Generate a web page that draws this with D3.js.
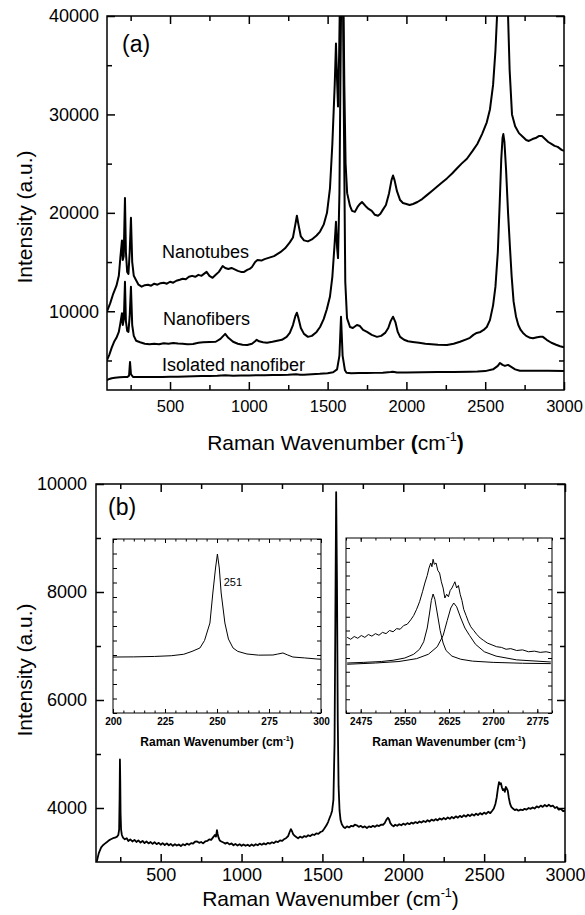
<!DOCTYPE html>
<html>
<head>
<meta charset="utf-8">
<script src="https://cdn.jsdelivr.net/npm/d3@7"></script>
<style>
  body { margin: 0; background: #fff; }
  svg { display: block; font-family: 'Liberation Sans', Arial, sans-serif; }
</style>
</head>
<body>
<svg id="chart" width="585" height="915"></svg>
<script>
// ---- data (wavenumber cm-1, intensity a.u.) ----

var nanotubesSpectrum = [
  [100,10000],[120,10800],[140,11800],[160,12600],[175,13600],[185,15500],[195,17200],[200,15200],[206,15600],
  [214,21500],[220,16000],[228,14000],[236,13800],[244,16000],[252,19500],[260,15000],[270,13600],[283,13200],
  [300,12700],[320,12500],[340,12650],[360,12700],[380,12600],[400,12800],[420,12700],[440,12850],[460,12900],
  [480,12800],[500,13000],[520,12900],[540,13100],[562,13200],[580,13300],[600,13250],[620,13500],[640,13600],
  [660,13500],[680,13700],[700,13600],[715,13800],[732,14000],[750,13600],[770,13400],[790,13700],[810,14000],
  [834,14600],[850,14400],[870,14300],[890,14400],[910,14250],[930,14100],[950,14000],[970,14000],[990,14200],
  [1005,14300],[1020,14500],[1040,15000],[1055,15200],[1080,15150],[1100,15300],[1120,15400],[1140,15500],
  [1160,15600],[1180,15800],[1200,16000],[1230,16400],[1260,17000],[1280,17500],[1295,18800],[1305,19700],
  [1315,18800],[1330,17600],[1350,17200],[1375,17100],[1400,17300],[1430,17700],[1452,18100],[1475,18800],
  [1496,20000],[1515,22500],[1530,27000],[1545,33000],[1553,37200],[1560,33500],[1566,30800],[1573,36000],
  [1580,44000],[1592,47000],[1600,42000],[1606,33000],[1614,25000],[1624,22000],[1642,20700],[1655,20200],
  [1673,20100],[1690,20600],[1705,20900],[1718,21100],[1740,20700],[1760,20400],[1780,20200],[1800,19800],
  [1820,19700],[1835,19900],[1850,20300],[1870,20800],[1890,22000],[1905,23300],[1915,23800],[1925,23300],
  [1940,22200],[1960,21300],[1978,21000],[2000,20900],[2020,20800],[2042,20900],[2070,21100],[2100,21400],
  [2130,21800],[2160,22200],[2190,22600],[2220,23000],[2257,23500],[2290,24000],[2320,24500],[2350,25000],
  [2384,25500],[2420,26300],[2450,27000],[2480,28000],[2510,29200],[2530,30500],[2550,33000],[2565,36500],
  [2578,41000],[2595,50000],[2612,55000],[2630,48000],[2645,40000],[2655,34500],[2670,30000],[2690,28800],
  [2714,28100],[2740,27700],[2760,27400],[2777,27300],[2800,27500],[2820,27600],[2840,27800],[2860,27800],
  [2880,27500],[2900,27200],[2920,27000],[2940,26800],[2960,26700],[2985,26400],[3000,26300]
];

var nanofibersSpectrum = [
  [100,5050],[115,5600],[130,6300],[145,6900],[160,7300],[175,7900],[185,8800],[195,9800],[200,8600],[207,9200],
  [214,13000],[220,9000],[228,8000],[236,7900],[244,9500],[252,12500],[260,8600],[270,7500],[285,7000],
  [310,6850],[340,6700],[370,6650],[400,6700],[430,6650],[460,6750],[490,6700],[520,6780],[550,6720],
  [580,6700],[610,6650],[646,6680],[680,6800],[710,6850],[750,6880],[790,6900],[820,7200],[850,7700],
  [870,7300],[900,6900],[930,6700],[960,6600],[990,6580],[1020,6700],[1040,6950],[1050,7100],[1065,6950],
  [1090,6850],[1115,6800],[1150,6900],[1180,7000],[1210,7100],[1240,7400],[1260,7800],[1280,8600],
  [1295,9500],[1305,9850],[1315,9300],[1330,8300],[1350,7700],[1375,7400],[1400,7500],[1430,7900],
  [1452,8400],[1475,9200],[1495,10200],[1515,11500],[1530,13500],[1545,17000],[1553,19100],[1560,16500],
  [1566,15400],[1575,22000],[1582,35000],[1588,45000],[1596,45000],[1603,30000],[1612,13000],[1623,9300],
  [1642,8400],[1660,8300],[1686,8600],[1705,8500],[1725,8100],[1750,7900],[1780,7600],[1813,7400],
  [1840,7500],[1865,7800],[1885,8300],[1900,9000],[1915,9450],[1930,8900],[1945,7900],[1960,7400],
  [1985,7100],[2010,6950],[2040,6880],[2080,6800],[2120,6700],[2160,6650],[2200,6600],[2257,6580],
  [2300,6700],[2340,6900],[2380,7150],[2403,7300],[2425,7600],[2446,7800],[2470,7900],[2490,8100],
  [2510,8400],[2530,9100],[2550,10600],[2565,12500],[2580,16000],[2592,21000],[2602,25500],[2610,27600],
  [2615,28000],[2622,27200],[2632,24500],[2645,20000],[2657,16500],[2668,13500],[2680,11000],[2695,9500],
  [2710,8600],[2725,8100],[2740,7800],[2760,7500],[2785,7300],[2803,7250],[2830,7350],[2850,7400],
  [2866,7400],[2890,7100],[2920,6800],[2950,6600],[2975,6450],[3000,6350]
];

var isolatedSpectrum = [
  [100,3000],[115,3120],[130,3200],[150,3250],[180,3300],[210,3320],[230,3330],[240,3450],[246,4850],
  [252,3600],[265,3330],[300,3320],[350,3320],[400,3330],[450,3320],[500,3340],[550,3350],[600,3380],
  [650,3400],[700,3420],[750,3430],[800,3440],[850,3500],[900,3460],[950,3470],[1000,3480],[1050,3500],
  [1100,3510],[1150,3520],[1200,3530],[1250,3540],[1300,3600],[1325,3560],[1350,3560],[1400,3600],
  [1450,3640],[1500,3700],[1535,3800],[1560,4100],[1575,5500],[1585,9450],[1595,5500],[1610,4000],
  [1620,3750],[1650,3700],[1700,3720],[1750,3730],[1800,3740],[1850,3760],[1900,3820],[1915,3850],
  [1940,3780],[2000,3780],[2100,3800],[2200,3820],[2300,3840],[2400,3860],[2450,3880],[2500,3920],
  [2550,4100],[2580,4450],[2594,4750],[2610,4550],[2625,4450],[2645,4550],[2660,4400],[2690,4100],
  [2720,3950],[2800,3950],[2900,3950],[3000,3930]
];

var isolatedFullSpectrum = [
  [100,3000],[106,3020],[112,3100],[118,3170],[125,3220],[132,3270],[143,3310],[155,3340],[168,3370],
  [180,3400],[192,3420],[205,3440],[218,3450],[230,3470],[238,3500],[243,3600],[246,4200],[248,4900],
  [250,4500],[252,3900],[255,3600],[260,3500],[267,3450],[278,3420],[290,3440],[300,3390],[312,3420],
  [325,3380],[338,3410],[350,3370],[362,3400],[375,3360],[388,3390],[400,3350],[412,3380],[425,3345],
  [438,3370],[450,3335],[462,3365],[475,3330],[488,3355],[500,3320],[512,3350],[525,3315],[538,3345],
  [550,3310],[562,3335],[575,3300],[588,3330],[600,3305],[612,3325],[625,3295],[638,3330],[650,3310],
  [662,3340],[675,3320],[688,3350],[700,3340],[712,3375],[725,3380],[738,3355],[750,3370],[762,3345],
  [775,3380],[788,3390],[800,3420],[812,3410],[825,3460],[835,3500],[842,3470],[848,3590],[852,3520],
  [858,3450],[865,3400],[875,3380],[888,3360],[900,3340],[912,3360],[925,3325],[938,3345],[950,3310],
  [962,3335],[975,3305],[988,3330],[1000,3300],[1012,3325],[1025,3300],[1038,3320],[1050,3295],
  [1062,3325],[1075,3300],[1088,3330],[1100,3310],[1112,3340],[1125,3320],[1138,3345],[1150,3325],
  [1162,3355],[1175,3340],[1188,3365],[1200,3350],[1212,3380],[1225,3370],[1238,3400],[1250,3390],
  [1262,3420],[1275,3440],[1288,3480],[1298,3560],[1305,3610],[1312,3570],[1320,3510],[1330,3480],
  [1340,3460],[1350,3440],[1362,3470],[1375,3450],[1388,3480],[1400,3465],[1412,3495],[1425,3480],
  [1438,3510],[1450,3500],[1462,3530],[1475,3520],[1488,3555],[1500,3570],[1512,3620],[1525,3680],
  [1535,3740],[1545,3820],[1553,3880],[1560,3950],[1568,4150],[1575,5200],[1580,7500],[1585,9850],
  [1590,8200],[1595,5600],[1600,4400],[1606,3950],[1612,3780],[1620,3700],[1630,3650],[1640,3630],
  [1652,3660],[1665,3640],[1678,3670],[1690,3660],[1700,3690],[1712,3680],[1725,3650],[1738,3670],
  [1750,3640],[1762,3660],[1775,3630],[1788,3660],[1800,3645],[1812,3670],[1825,3650],[1838,3680],
  [1850,3665],[1862,3690],[1875,3690],[1885,3720],[1895,3780],[1905,3820],[1912,3790],[1920,3720],
  [1930,3680],[1940,3660],[1950,3690],[1962,3670],[1975,3700],[1988,3680],[2000,3710],[2012,3690],
  [2025,3720],[2038,3700],[2050,3730],[2062,3710],[2075,3740],[2088,3720],[2100,3750],[2112,3730],
  [2125,3760],[2138,3740],[2150,3775],[2162,3750],[2175,3785],[2188,3765],[2200,3795],[2212,3770],
  [2225,3805],[2238,3785],[2250,3815],[2262,3790],[2275,3825],[2288,3800],[2300,3835],[2312,3810],
  [2325,3845],[2338,3820],[2350,3855],[2362,3830],[2375,3865],[2388,3840],[2400,3875],[2412,3850],
  [2425,3885],[2438,3860],[2450,3895],[2462,3870],[2475,3905],[2488,3880],[2500,3915],[2512,3890],
  [2525,3930],[2538,3905],[2550,3950],[2560,3990],[2570,4080],[2578,4200],[2585,4360],[2592,4480],
  [2598,4440],[2604,4460],[2610,4380],[2616,4330],[2622,4350],[2628,4300],[2634,4390],[2640,4360],
  [2646,4320],[2652,4200],[2660,4080],[2668,4020],[2678,3990],[2690,3960],[2700,3975],[2712,3950],
  [2725,3970],[2738,3960],[2750,3985],[2762,3970],[2775,4000],[2788,3985],[2800,4010],[2812,3990],
  [2825,4030],[2838,4010],[2850,4045],[2862,4020],[2875,4055],[2888,4030],[2900,4060],[2912,4030],
  [2925,4045],[2938,4000],[2950,4020],[2962,3970],[2975,3985],[2988,3940],[3000,3950]
];

// inset: radial breathing mode
var rbmSpectrum = [
  [200,3572],[210,3574],[220,3580],[228,3590],[234,3610],[238,3650],[241.8,3697],[244,3800],[246.6,4041],
  [248,4455],[249.3,4800],[250.2,4993],[251.1,4800],[252,4455],[253.8,4041],[255.5,3820],[257.7,3697],
  [260,3650],[264.4,3614],[270,3598],[276.9,3600],[279,3612],[281.7,3628],[284,3600],[286.5,3572],
  [292,3560],[298,3545],[300,3542]
];
var rbmPeakLabel = '251';

// inset: G' band, measured and two fitted components
var gPrimeSpectrum = [
  [2452,3905],[2458,3890],[2464,3912],[2470,3898],[2476,3920],[2482,3905],[2488,3928],[2494,3915],
  [2500,3935],[2506,3922],[2512,3945],[2518,3935],[2524,3960],[2530,3950],[2536,3975],[2542,3970],
  [2548,4000],[2554,4010],[2560,4045],[2565,4080],[2570,4130],[2575,4190],[2580,4270],[2584,4340],
  [2588,4400],[2591,4460],[2594,4500],[2596,4470],[2598,4530],[2600,4490],[2603,4500],[2606,4440],
  [2609,4420],[2612,4350],[2615,4300],[2618,4220],[2621,4250],[2624,4230],[2627,4280],[2630,4300],
  [2633,4330],[2635,4350],[2638,4300],[2641,4320],[2644,4250],[2647,4200],[2650,4130],[2654,4080],
  [2658,4030],[2662,3990],[2667,3960],[2672,3930],[2678,3900],[2684,3880],[2690,3860],[2698,3845],
  [2706,3830],[2714,3825],[2722,3810],[2730,3815],[2740,3800],[2750,3805],[2760,3790],[2770,3795],
  [2780,3785],[2790,3790],[2798,3782]
];
var gPrimeFitLow = [
  [2452,3700],[2480,3705],[2510,3712],[2530,3722],[2550,3740],[2565,3770],[2575,3810],[2582,3870],
  [2588,3980],[2592,4100],[2595,4200],[2598,4252],[2601,4210],[2605,4100],[2610,3960],[2615,3860],
  [2620,3800],[2630,3755],[2645,3730],[2665,3715],[2700,3705],[2750,3698],[2798,3695]
];
var gPrimeFitHigh = [
  [2452,3690],[2500,3700],[2540,3712],[2570,3735],[2590,3770],[2605,3830],[2615,3920],[2622,4040],
  [2628,4140],[2633,4180],[2638,4150],[2645,4060],[2652,3980],[2660,3920],[2670,3850],[2685,3790],
  [2705,3755],[2740,3725],[2798,3708]
];

var seriesLabels = ['Nanotubes', 'Nanofibers', 'Isolated nanofiber'];
var panelLabels = ['(a)', '(b)'];

var wavenumberTicks = [500, 1000, 1500, 2000, 2500, 3000];
var wavenumberMinor = [250, 750, 1250, 1750, 2250, 2750];
var panelATicksY = [10000, 20000, 30000, 40000];
var panelAMinorY = [5000, 15000, 25000, 35000];
var panelBTicksY = [4000, 6000, 8000, 10000];
var panelBMinorY = [5000, 7000, 9000];
var rbmTicks = [200, 225, 250, 275, 300];
var gPrimeTicks = [2475, 2550, 2625, 2700, 2775];

// ---- drawing ----
var svg = d3.select('#chart');
var FONT = "'Liberation Sans', Arial, sans-serif";
var axisFns = {bottom: d3.axisBottom, top: d3.axisTop, left: d3.axisLeft, right: d3.axisRight};

// box with inward ticks on all four sides, labels on bottom / left only
var drawFrame = function (g, x, y, cfg) {
  var w = x.range()[1], h = y.range()[0];
  var sides = [
    {kind: 'bottom', s: x, t: 'translate(0,' + h + ')', major: cfg.xMajor, minor: cfg.xMinor, label: true, pad: cfg.xPad, size: cfg.xFont},
    {kind: 'top', s: x, t: 'translate(0,0)', major: cfg.xMajor, minor: cfg.xMinor, label: false},
    {kind: 'left', s: y, t: 'translate(0,0)', major: cfg.yMajor, minor: cfg.yMinor, label: cfg.yLabel, pad: cfg.yPad, size: cfg.yFont},
    {kind: 'right', s: y, t: 'translate(' + w + ',0)', major: cfg.yMajor, minor: cfg.yMinor, label: false}
  ];
  sides.forEach(function (d) {
    var fmt = d.label ? d3.format('d') : function () { return ''; };
    var maj = g.append('g').attr('transform', d.t)
      .call(axisFns[d.kind](d.s).tickValues(d.major).tickSize(-cfg.majorLen).tickPadding(d.pad || 3).tickFormat(fmt));
    maj.select('.domain').remove();
    maj.selectAll('line').attr('stroke-width', cfg.stroke);
    maj.selectAll('text').attr('font-family', FONT).attr('font-size', d.size)
      .attr('font-weight', cfg.weight || 'normal').attr('fill', '#000');
    var mn = g.append('g').attr('transform', d.t)
      .call(axisFns[d.kind](d.s).tickValues(d.minor).tickSize(-cfg.minorLen).tickFormat(function () { return ''; }));
    mn.select('.domain').remove();
    mn.selectAll('line').attr('stroke-width', cfg.stroke);
  });
  g.append('rect').attr('width', w).attr('height', h)
    .attr('fill', 'none').attr('stroke', '#000').attr('stroke-width', cfg.stroke);
};

var wavenumberTitle = function (g, cx, by, size, weight, parenWeight) {
  var t = g.append('text').attr('x', cx).attr('y', by).attr('text-anchor', 'middle')
    .attr('font-family', FONT).attr('font-size', size).attr('font-weight', weight);
  t.append('tspan').text('Raman Wavenumber ');
  t.append('tspan').attr('font-weight', parenWeight).text('(');
  t.append('tspan').text('cm');
  t.append('tspan').attr('font-size', size * 0.6).attr('dy', -size * 0.42).text('-1');
  t.append('tspan').attr('font-weight', parenWeight).attr('dy', size * 0.42).text(')');
};

var intensityTitle = function (cx, cy, size) {
  svg.append('text').attr('transform', 'translate(' + cx + ',' + cy + ') rotate(-90)')
    .attr('text-anchor', 'middle').attr('font-family', FONT).attr('font-size', size)
    .text('Intensity (a.u.)');
};

var line = function (x, y) {
  return d3.line().x(function (d) { return x(d[0]); }).y(function (d) { return y(d[1]); });
};

// ---------- panel (a) ----------
var A = {left: 107, top: 16, w: 457, h: 374};
var xA = d3.scaleLinear().domain([100, 3000]).range([0, A.w]);
var yA = d3.scaleLinear().domain([2000, 40000]).range([A.h, 0]);
var gA = svg.append('g').attr('transform', 'translate(' + A.left + ',' + A.top + ')');

svg.append('clipPath').attr('id', 'clipA').append('rect').attr('width', A.w).attr('height', A.h);
var curvesA = gA.append('g').attr('clip-path', 'url(#clipA)');
[nanotubesSpectrum, nanofibersSpectrum, isolatedSpectrum].forEach(function (s) {
  curvesA.append('path').datum(s).attr('d', line(xA, yA))
    .attr('fill', 'none').attr('stroke', '#000').attr('stroke-width', 2).attr('stroke-linejoin', 'round');
});

drawFrame(gA, xA, yA, {
  xMajor: wavenumberTicks, xMinor: wavenumberMinor, yMajor: panelATicksY, yMinor: panelAMinorY,
  majorLen: 8, minorLen: 5, stroke: 1.5, xPad: 10, yPad: 8, xFont: 16.5, yFont: 18, yLabel: true
});

// series labels placed in data space
[[449, 15400], [455, 8650], [449, 3900]].forEach(function (p, i) {
  gA.append('text').attr('x', xA(p[0])).attr('y', yA(p[1]))
    .attr('font-family', FONT).attr('font-size', 18).text(seriesLabels[i]);
});
gA.append('text').attr('x', 15).attr('y', 36).attr('font-family', FONT).attr('font-size', 23).text(panelLabels[0]);

wavenumberTitle(svg, A.left + A.w / 2, 450, 21, 'normal', 'bold');
intensityTitle(32, 217, 21);

// ---------- panel (b) ----------
var B = {left: 96, top: 484, w: 469, h: 378};
var xB = d3.scaleLinear().domain([100, 3000]).range([0, B.w]);
var yB = d3.scaleLinear().domain([3000, 10000]).range([B.h, 0]);
var gB = svg.append('g').attr('transform', 'translate(' + B.left + ',' + B.top + ')');

svg.append('clipPath').attr('id', 'clipB').append('rect').attr('width', B.w).attr('height', B.h);
gB.append('g').attr('clip-path', 'url(#clipB)').append('path').datum(isolatedFullSpectrum)
  .attr('d', line(xB, yB)).attr('fill', 'none').attr('stroke', '#000')
  .attr('stroke-width', 1.8).attr('stroke-linejoin', 'round');

drawFrame(gB, xB, yB, {
  xMajor: wavenumberTicks, xMinor: wavenumberMinor, yMajor: panelBTicksY, yMinor: panelBMinorY,
  majorLen: 8, minorLen: 5, stroke: 1.5, xPad: 6, yPad: 9, xFont: 18, yFont: 18, yLabel: true
});
gB.append('text').attr('x', 12).attr('y', 31).attr('font-family', FONT).attr('font-size', 23).text(panelLabels[1]);

wavenumberTitle(svg, B.left + B.w / 2, 906, 21, 'normal', 'normal');
intensityTitle(32, 670, 21);

// ---------- insets ----------
var drawInset = function (box, xDom, yDom, xTicks, xMinorStep, yStep, curves) {
  var g = svg.append('g').attr('transform', 'translate(' + box.left + ',' + box.top + ')');
  var x = d3.scaleLinear().domain(xDom).range([0, box.w]);
  var y = d3.scaleLinear().domain(yDom).range([box.h, 0]);
  g.append('rect').attr('width', box.w).attr('height', box.h).attr('fill', '#fff');
  var id = 'clip' + box.left;
  svg.append('clipPath').attr('id', id).append('rect').attr('width', box.w).attr('height', box.h);
  var cg = g.append('g').attr('clip-path', 'url(#' + id + ')');
  curves.forEach(function (s) {
    cg.append('path').datum(s).attr('d', line(x, y)).attr('fill', 'none')
      .attr('stroke', '#000').attr('stroke-width', 1).attr('stroke-linejoin', 'round');
  });
  drawFrame(g, x, y, {
    xMajor: xTicks, xMinor: d3.range(xDom[0], xDom[1] + 0.01, xMinorStep),
    yMajor: d3.range(yDom[0], yDom[1] + 0.01, yStep), yMinor: [],
    majorLen: 4, minorLen: 2.5, stroke: 1, xPad: 5, xFont: 10, yLabel: false, weight: 'bold'
  });
  wavenumberTitle(g, box.w / 2, box.h + 33, 12, 'bold', 'bold');
  return {g: g, x: x, y: y};
};

var rbm = drawInset({left: 113, top: 539, w: 208, h: 174}, [200, 300], [2800, 5200],
  rbmTicks, 5, 200, [rbmSpectrum]);
rbm.g.append('text').attr('x', rbm.x(253.2)).attr('y', rbm.y(4550))
  .attr('font-family', FONT).attr('font-size', 11).text(rbmPeakLabel);

drawInset({left: 346, top: 538, w: 206, h: 175}, [2450, 2800], [3300, 4700],
  gPrimeTicks, 25, 110, [gPrimeSpectrum, gPrimeFitLow, gPrimeFitHigh]);
</script>
</body>
</html>
